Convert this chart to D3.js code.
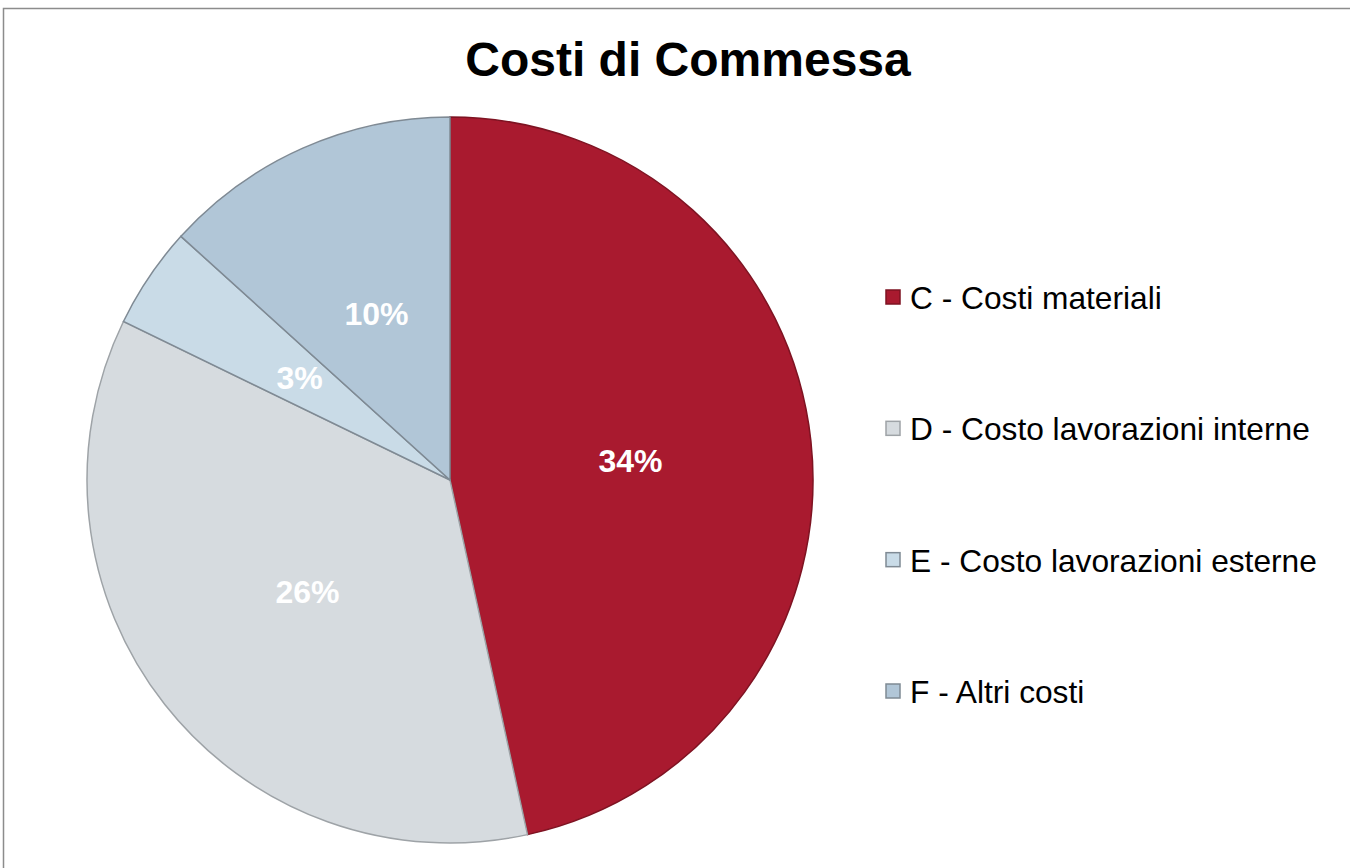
<!DOCTYPE html>
<html><head><meta charset="utf-8">
<script src="https://cdn.jsdelivr.net/npm/d3@7"></script>
<style>html,body{margin:0;padding:0;background:#fff;}svg{display:block;}</style>
</head><body>
<svg id="chart" width="1350" height="868"></svg>
<script>
const categories = ["C - Costi materiali", "D - Costo lavorazioni interne", "E - Costo lavorazioni esterne", "F - Altri costi"];
const values = [34, 26, 3.3, 9.7]; // % of total commessa cost
const colors = ["#A91A2F", "#D6DBDF", "#C9DBE7", "#B1C6D7"];
const strokes = ["#7E1322", "#9EA3A7", "#7F8A94", "#7F8A94"];
const title = "Costi di Commessa";

const svg = d3.select("#chart");
svg.append("rect").attr("x", 3.5).attr("y", 8.5).attr("width", 1360).attr("height", 880)
  .attr("fill", "#fff").attr("stroke", "#8c8c8c").attr("stroke-width", 1.5);

svg.append("text").attr("x", 688).attr("y", 76).attr("text-anchor", "middle")
  .attr("font-family", "Liberation Sans, Arial, sans-serif").attr("font-weight", "bold")
  .attr("font-size", 48).attr("fill", "#000").text(title);

const cx = 450, cy = 480, R = 363;
const data = categories.map((c, i) => ({cat: c, value: values[i], color: colors[i], stroke: strokes[i]}));
const pie = d3.pie().value(d => d.value).sort(null);
const arc = d3.arc().innerRadius(0).outerRadius(R);
const g = svg.append("g").attr("transform", `translate(${cx},${cy})`);
const arcs = pie(data);
g.selectAll("path").data(arcs).join("path")
  .attr("d", arc).attr("fill", d => d.data.color)
  .attr("stroke", d => d.data.stroke).attr("stroke-width", 1.5);

const fmt = v => Math.round(v) + "%";
g.selectAll("text.lbl").data(arcs).join("text").attr("class", "lbl")
  .attr("transform", d => `translate(${arc.centroid(d)})`)
  .attr("text-anchor", "middle").attr("dominant-baseline", "central")
  .attr("font-family", "Liberation Sans, Arial, sans-serif").attr("font-weight", "bold")
  .attr("font-size", 32).attr("fill", "#fff").text(d => fmt(d.data.value));

const ly = d3.scalePoint().domain(categories).range([297, 691]);
const leg = svg.append("g").selectAll("g").data(data).join("g")
  .attr("transform", d => `translate(886,${ly(d.cat)})`);
leg.append("rect").attr("x", 0).attr("y", -7).attr("width", 14).attr("height", 14)
  .attr("fill", d => d.color).attr("stroke", d => d.stroke).attr("stroke-width", 1.5);
leg.append("text").attr("x", 24).attr("y", 1).attr("dominant-baseline", "central")
  .attr("font-family", "Liberation Sans, Arial, sans-serif").attr("font-size", 31.7)
  .attr("fill", "#000").text(d => d.cat);
</script>
</body></html>
